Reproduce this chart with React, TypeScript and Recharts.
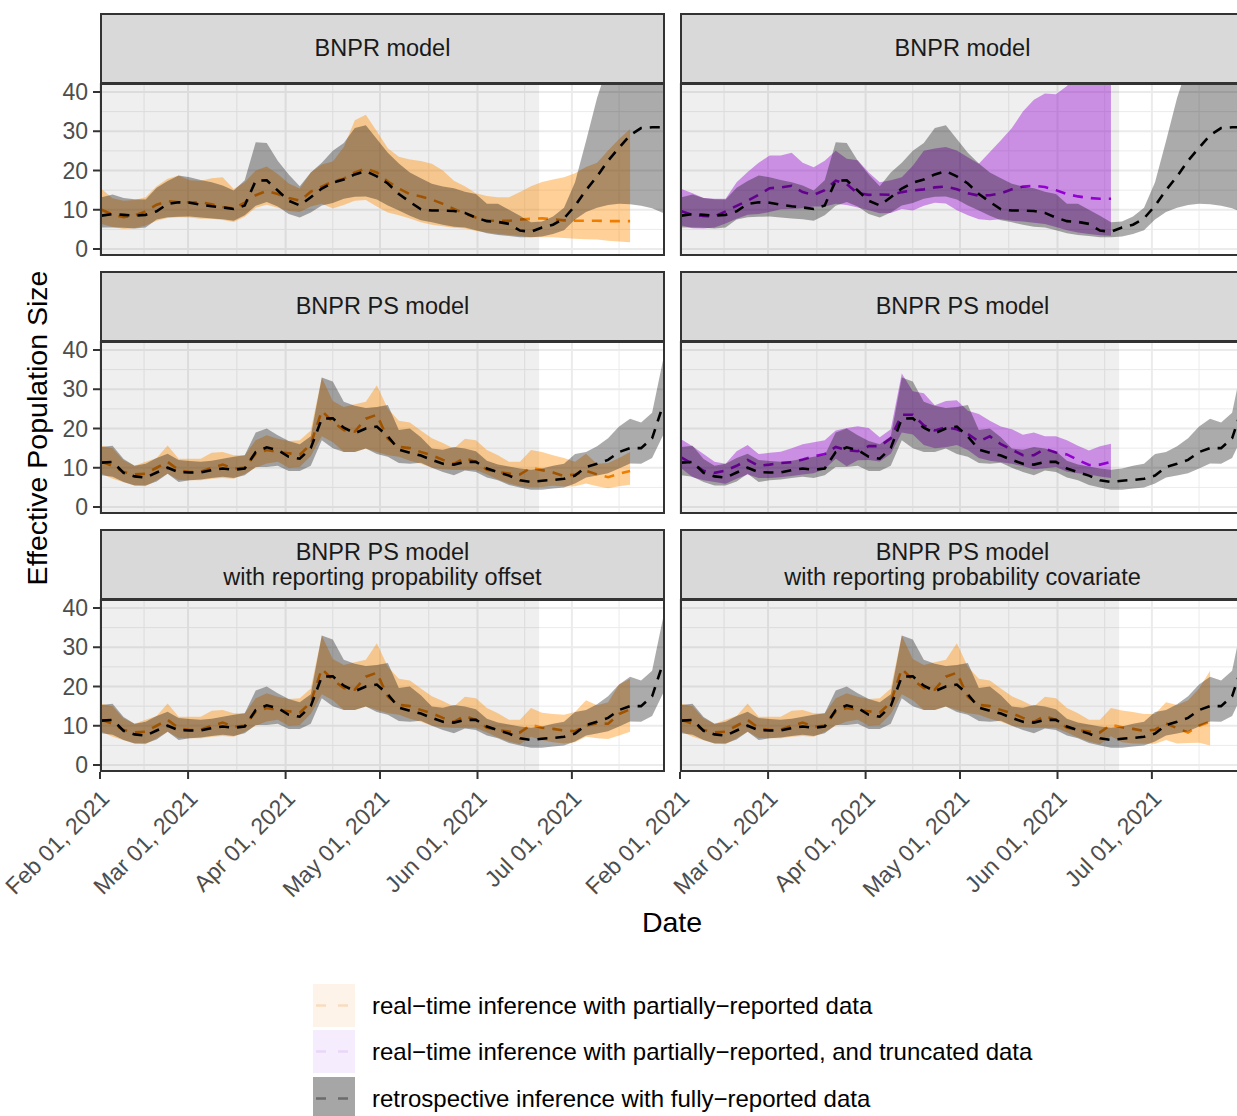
import React from "react"
import { ComposedChart, Area, Line, XAxis, YAxis, CartesianGrid, ReferenceArea } from "recharts"

// days since 2021-02-01 (twice-weekly estimation grid)
const DAYS = [0.5, 4, 7.5, 11, 14.5, 18, 21.5, 25, 28.5, 32, 35.5, 39, 42.5, 46, 49.5, 53, 56.5, 60, 63.5, 67, 70.5, 74, 77.5, 81, 84.5, 88, 91.5, 95, 98.5, 102, 105.5, 109, 112.5, 116, 119.5, 123, 126.5, 130, 133.5, 137, 140.5, 144, 147.5, 151, 154.5, 158, 161.5, 165, 168.5, 172, 175.5, 179]

const TICK_DAYS = [0, 28, 59, 89, 120, 150]
const TICK_LABELS = ["Feb 01, 2021", "Mar 01, 2021", "Apr 01, 2021", "May 01, 2021", "Jun 01, 2021", "Jul 01, 2021"]
const MINOR_DAYS = [14, 43.5, 74, 104.5, 135, 165]
const Y_TICKS = [0, 10, 20, 30, 40]
const MINOR_Y = [5, 15, 25, 35]
const TRUNCATION_DAY = 139.6

// retrospective, fully reported (BNPR)
const BNPR_MED = [8.5, 8.9, 8.7, 8.5, 8.7, 9.6, 11.5, 11.9, 11.8, 11.3, 10.9, 10.6, 10.2, 11.1, 17.4, 17.5, 14.9, 12.3, 11.1, 13.2, 15.4, 16.9, 17.7, 19.0, 19.8, 18.5, 16.7, 14.0, 12.0, 10.1, 9.8, 9.8, 9.7, 9.2, 8.0, 7.1, 6.9, 6.4, 4.7, 4.4, 5.5, 6.2, 7.8, 11.0, 15.0, 18.5, 22.5, 25.8, 29.0, 30.8, 31.0, 31.0]
const BNPR_LO = [5.5, 5.5, 5.4, 5.2, 5.5, 7.5, 8.1, 8.2, 8.3, 8.0, 7.8, 7.6, 7.2, 8.6, 11.0, 12.0, 10.8, 8.9, 8.0, 9.3, 11.1, 11.7, 12.8, 13.3, 13.4, 12.6, 11.1, 9.8, 8.5, 7.3, 6.8, 6.2, 5.7, 5.5, 4.8, 4.0, 3.6, 3.3, 3.0, 3.0, 3.2, 3.8, 4.8, 7.5, 9.4, 10.5, 11.2, 11.5, 11.4, 11.0, 10.4, 9.2]
const BNPR_HI = [13.2, 13.9, 13.0, 12.7, 12.6, 15.6, 17.3, 18.7, 18.3, 17.6, 17.0, 16.2, 14.9, 17.5, 27.2, 27.0, 22.5, 19.0, 16.0, 19.5, 22.0, 25.0, 27.0, 30.8, 31.5, 28.0, 24.5, 21.8, 19.5, 18.0, 16.6, 15.9, 15.5, 14.6, 14.0, 11.5, 11.5, 10.0, 8.5, 6.8, 7.0, 8.3, 10.5, 17.0, 27.5, 38.5, 47.0, 55.0, 61.0, 65.0, 67.0, 68.0]

// retrospective, fully reported (BNPR PS)
const PS_MED = [11.3, 11.5, 8.7, 7.8, 7.5, 8.8, 10.0, 8.9, 8.8, 8.8, 9.4, 9.8, 9.5, 9.8, 14.0, 15.2, 14.5, 12.8, 12.3, 15.0, 22.5, 22.6, 20.2, 18.8, 20.0, 20.5, 18.0, 14.6, 13.8, 13.1, 12.0, 11.0, 10.8, 11.5, 11.5, 9.8, 8.9, 8.0, 6.8, 6.4, 6.7, 6.9, 7.2, 8.0, 10.2, 11.0, 12.0, 14.0, 15.0, 15.0, 17.5, 26.0]
const PS_LO = [8.1, 7.7, 6.4, 5.5, 5.5, 6.5, 8.5, 6.4, 6.8, 7.0, 7.4, 7.7, 7.4, 8.1, 10.2, 10.2, 10.5, 9.2, 9.2, 10.5, 17.0, 15.0, 14.0, 14.0, 14.9, 13.5, 12.8, 11.2, 11.0, 11.3, 10.0, 8.9, 8.1, 9.3, 8.9, 7.5, 6.8, 5.6, 5.0, 4.4, 4.4, 4.7, 5.0, 6.0, 7.5, 8.0, 8.6, 9.8, 11.1, 11.0, 12.5, 18.3]
const PS_HI = [15.3, 15.6, 12.2, 10.5, 11.0, 12.5, 13.6, 12.0, 11.7, 11.5, 11.8, 12.3, 12.8, 13.2, 19.0, 20.0, 18.3, 16.8, 16.0, 18.0, 33.0, 32.0, 26.8, 25.8, 25.2, 25.5, 26.0, 19.6, 20.0, 17.8, 14.9, 14.6, 15.3, 14.9, 14.2, 11.8, 10.8, 10.3, 9.8, 9.5, 9.8, 10.5, 11.0, 13.5, 14.0, 15.5, 17.5, 20.5, 22.5, 21.5, 24.0, 37.5]

// real-time, partially reported (BNPR)
const BNPR_RT_MED = [10.0, 8.8, 8.1, 8.5, 9.6, 11.3, 12.2, 11.9, 11.9, 11.9, 11.4, 10.7, 10.3, 11.8, 13.7, 14.8, 14.0, 13.0, 12.3, 14.6, 15.9, 17.2, 17.9, 19.5, 20.5, 19.5, 17.2, 15.4, 14.0, 13.4, 12.6, 11.5, 10.2, 9.0, 8.0, 7.2, 7.2, 7.2, 7.5, 7.7, 7.8, 7.6, 7.3, 7.2, 7.2, 7.2, 7.1, 7.1, 7.1]
const BNPR_RT_LO = [6.4, 5.6, 5.1, 5.3, 6.0, 7.2, 7.9, 8.1, 8.0, 7.7, 7.7, 7.4, 6.9, 8.2, 10.5, 11.3, 10.5, 9.7, 9.4, 10.8, 11.5, 10.3, 11.2, 12.3, 12.5, 10.8, 9.3, 8.6, 7.8, 6.8, 6.2, 5.8, 5.4, 5.2, 4.6, 4.2, 3.8, 3.6, 3.3, 3.0, 3.0, 3.0, 2.8, 2.6, 2.5, 2.4, 2.1, 1.9, 1.7]
const BNPR_RT_HI = [15.3, 12.9, 12.3, 12.5, 13.2, 16.0, 17.9, 18.7, 17.5, 17.4, 18.0, 18.3, 15.3, 17.0, 20.0, 21.0, 19.1, 16.7, 15.4, 19.5, 21.5, 22.3, 26.0, 32.8, 34.2, 30.0, 25.7, 23.5, 22.8, 22.4, 21.7, 20.0, 17.4, 16.0, 14.2, 13.5, 13.2, 13.2, 14.5, 16.0, 17.1, 17.7, 18.3, 19.3, 20.9, 22.0, 25.1, 28.0, 30.6]

// real-time, partially reported and truncated (BNPR)
const BNPR_TR_MED = [9.6, 8.7, 8.4, 8.3, 9.6, 11.0, 12.3, 13.8, 15.5, 15.7, 16.1, 14.5, 13.8, 15.0, 17.4, 16.5, 14.2, 13.8, 13.9, 13.8, 14.5, 14.9, 15.2, 15.7, 15.9, 15.2, 14.2, 13.6, 13.7, 14.2, 15.2, 15.9, 16.1, 15.8, 15.0, 14.0, 13.4, 13.0, 12.8, 12.8]
const BNPR_TR_LO = [6.0, 5.3, 5.2, 5.5, 6.5, 7.7, 8.7, 8.9, 9.4, 10.1, 10.2, 10.4, 10.8, 10.8, 11.5, 11.2, 10.6, 9.9, 9.1, 9.2, 10.2, 9.8, 11.0, 11.8, 11.6, 9.9, 8.6, 7.6, 7.3, 7.6, 7.2, 7.0, 6.7, 6.4, 5.6, 4.8, 4.2, 3.8, 3.5, 3.4]
const BNPR_TR_HI = [15.3, 14.2, 13.0, 12.8, 12.8, 17.0, 19.6, 22.0, 23.8, 23.8, 24.5, 22.0, 20.8, 22.5, 25.0, 23.0, 22.6, 19.5, 17.0, 17.5, 18.3, 21.2, 25.0, 25.6, 26.0, 25.1, 23.4, 21.7, 24.7, 27.7, 30.8, 35.0, 38.0, 39.6, 39.4, 41.5, 45.0, 50.0, 55.0, 58.0]

// real-time, partially reported (BNPR PS)
const PS_RT_MED = [11.5, 10.5, 8.9, 8.3, 8.5, 10.0, 11.5, 9.4, 8.9, 9.0, 10.0, 10.8, 9.8, 10.0, 13.6, 14.5, 14.0, 13.7, 13.3, 16.0, 24.5, 21.7, 19.6, 19.2, 22.5, 23.5, 17.4, 15.3, 15.0, 14.0, 13.2, 12.0, 11.0, 12.5, 11.5, 9.5, 8.9, 8.5, 8.3, 10.0, 9.4, 8.8, 7.9, 8.3, 9.2, 8.3, 7.6, 8.5, 9.2]
const PS_RT_LO = [8.5, 7.2, 6.3, 5.5, 5.3, 6.8, 8.5, 6.9, 6.8, 6.8, 7.2, 7.4, 7.2, 8.4, 10.0, 11.1, 11.5, 10.0, 10.2, 13.0, 18.0, 16.5, 14.0, 14.0, 14.9, 14.0, 13.2, 12.8, 11.8, 11.0, 10.0, 9.6, 9.4, 9.4, 9.4, 8.3, 7.0, 6.0, 5.3, 5.1, 5.1, 5.4, 5.2, 5.3, 6.0, 5.3, 4.8, 5.3, 5.7]
const PS_RT_HI = [15.6, 15.0, 11.9, 10.5, 11.5, 12.5, 15.7, 12.3, 12.3, 12.3, 13.8, 14.0, 13.2, 13.2, 17.0, 18.3, 17.4, 16.8, 17.0, 19.5, 33.0, 27.0, 25.5, 26.2, 26.8, 31.0, 25.0, 22.0, 21.5, 19.5, 17.5, 16.3, 14.9, 17.4, 17.0, 14.5, 13.2, 11.5, 11.5, 14.5, 14.0, 13.2, 12.5, 11.5, 13.6, 11.0, 11.2, 12.5, 14.0]

// real-time, partially reported and truncated (BNPR PS)
const PS_TR_MED = [12.6, 11.0, 9.2, 8.7, 9.3, 10.5, 12.0, 10.5, 10.8, 11.2, 11.4, 12.1, 12.9, 13.5, 15.3, 14.5, 14.2, 15.5, 15.5, 17.5, 23.5, 23.5, 20.8, 19.5, 20.3, 19.8, 18.6, 16.7, 18.0, 16.0, 14.6, 13.2, 13.2, 14.8, 13.9, 13.4, 12.0, 10.7, 10.8, 11.5]
const PS_TR_LO = [9.8, 7.6, 6.8, 6.4, 5.9, 7.2, 8.3, 7.4, 7.4, 7.6, 7.9, 8.3, 8.6, 9.7, 12.3, 10.4, 11.9, 12.0, 11.6, 13.6, 19.0, 18.5, 15.8, 15.0, 15.2, 15.8, 14.5, 12.5, 11.8, 11.4, 11.0, 10.4, 9.6, 9.9, 10.2, 9.0, 8.6, 8.3, 7.8, 7.4]
const PS_TR_HI = [17.2, 15.5, 13.5, 11.5, 11.0, 14.2, 15.8, 13.5, 13.8, 14.1, 15.0, 16.0, 16.5, 17.0, 19.5, 20.1, 20.6, 20.1, 17.8, 19.8, 34.0, 29.5, 29.0, 25.9, 27.0, 27.2, 24.5, 23.7, 22.0, 20.5, 19.8, 18.4, 19.0, 18.0, 18.0, 17.0, 15.6, 14.4, 15.5, 16.1]

// real-time, partially reported (BNPR PS with reporting probability offset)
const OFFSET_RT_MED = [11.5, 10.5, 8.9, 8.3, 8.5, 10.0, 11.5, 9.4, 8.9, 9.0, 10.0, 10.8, 9.8, 10.0, 13.6, 14.5, 14.0, 13.7, 13.3, 16.0, 24.5, 21.7, 19.6, 19.2, 22.5, 23.5, 17.4, 15.3, 15.0, 14.0, 13.2, 12.0, 11.0, 12.5, 11.5, 9.5, 8.9, 8.5, 8.3, 10.2, 9.5, 9.2, 8.8, 8.6, 10.0, 10.6, 10.5, 13.0, 14.2]
const OFFSET_RT_LO = [8.5, 7.2, 6.3, 5.5, 5.3, 6.8, 8.5, 6.9, 6.8, 6.8, 7.2, 7.4, 7.2, 8.4, 10.0, 11.1, 11.5, 10.0, 10.2, 13.0, 18.0, 16.5, 14.0, 14.0, 14.9, 14.0, 13.2, 12.8, 11.8, 11.0, 10.0, 9.6, 9.4, 9.4, 9.4, 8.3, 7.0, 6.0, 5.3, 7.2, 6.3, 5.8, 5.5, 5.8, 7.2, 6.8, 6.6, 7.5, 8.5]
const OFFSET_RT_HI = [15.6, 15.0, 11.9, 10.5, 11.5, 12.5, 15.7, 12.3, 12.3, 12.3, 13.8, 14.0, 13.2, 13.2, 17.0, 18.3, 17.4, 16.8, 17.0, 19.5, 33.0, 27.0, 25.5, 26.2, 26.8, 31.0, 25.0, 22.0, 21.5, 19.5, 17.5, 16.3, 14.9, 17.4, 17.0, 14.5, 13.2, 11.5, 11.5, 14.5, 13.3, 13.0, 12.8, 13.5, 16.5, 15.2, 16.0, 20.5, 22.0]

// real-time, partially reported (BNPR PS with reporting probability covariate)
const COV_RT_MED = [11.5, 10.5, 8.9, 8.3, 8.5, 10.0, 11.5, 9.4, 8.9, 9.0, 10.0, 10.8, 9.8, 10.0, 13.6, 14.5, 14.0, 13.7, 13.3, 16.0, 24.5, 21.7, 19.6, 19.2, 22.5, 23.5, 17.4, 15.3, 15.0, 14.0, 13.2, 12.0, 11.0, 12.5, 11.5, 9.5, 8.9, 8.5, 8.3, 10.3, 9.6, 9.2, 8.7, 9.0, 10.6, 9.4, 8.3, 10.0, 11.0]
const COV_RT_LO = [8.5, 7.2, 6.3, 5.5, 5.3, 6.8, 8.5, 6.9, 6.8, 6.8, 7.2, 7.4, 7.2, 8.4, 10.0, 11.1, 11.5, 10.0, 10.2, 13.0, 18.0, 16.5, 14.0, 14.0, 14.9, 14.0, 13.2, 12.8, 11.8, 11.0, 10.0, 9.6, 9.4, 9.4, 9.4, 8.3, 7.0, 6.0, 5.3, 7.3, 5.8, 5.5, 5.4, 5.4, 6.4, 5.5, 5.6, 5.7, 5.0]
const COV_RT_HI = [15.6, 15.0, 11.9, 10.5, 11.5, 12.5, 15.7, 12.3, 12.3, 12.3, 13.8, 14.0, 13.2, 13.2, 17.0, 18.3, 17.4, 16.8, 17.0, 19.5, 33.0, 27.0, 25.5, 26.2, 26.8, 31.0, 25.0, 22.0, 21.5, 19.5, 17.5, 16.3, 14.9, 17.4, 17.0, 14.5, 13.2, 11.5, 11.5, 14.5, 13.9, 13.5, 13.0, 13.0, 16.0, 15.3, 16.5, 19.5, 24.0]

const FONT = '"Liberation Sans", Arial, Helvetica, sans-serif'
const ORANGE = "#ff8c00"
const ORANGE_LINE = "#ee7d00"
const PURPLE = "#9400d3"

const PANEL_W = 565
const PANEL_H = 173
const STRIP_H = 70
const COL_X = [100, 680]
const ROW_Y = [83, 341, 599]
const GUTTER = 100
const PAD = 16 // room above/below the panel so edge tick labels are not clipped

const PANELS = [
  { row: 0, col: 0, title: ["BNPR model"], g: [BNPR_MED, BNPR_LO, BNPR_HI], c: [BNPR_RT_MED, BNPR_RT_LO, BNPR_RT_HI], color: ORANGE, line: ORANGE_LINE },
  { row: 0, col: 1, title: ["BNPR model"], g: [BNPR_MED, BNPR_LO, BNPR_HI], c: [BNPR_TR_MED, BNPR_TR_LO, BNPR_TR_HI], color: PURPLE, line: PURPLE },
  { row: 1, col: 0, title: ["BNPR PS model"], g: [PS_MED, PS_LO, PS_HI], c: [PS_RT_MED, PS_RT_LO, PS_RT_HI], color: ORANGE, line: ORANGE_LINE },
  { row: 1, col: 1, title: ["BNPR PS model"], g: [PS_MED, PS_LO, PS_HI], c: [PS_TR_MED, PS_TR_LO, PS_TR_HI], color: PURPLE, line: PURPLE },
  { row: 2, col: 0, title: ["BNPR PS model", "with reporting propability offset"], g: [PS_MED, PS_LO, PS_HI], c: [OFFSET_RT_MED, OFFSET_RT_LO, OFFSET_RT_HI], color: ORANGE, line: ORANGE_LINE },
  { row: 2, col: 1, title: ["BNPR PS model", "with reporting probability covariate"], g: [PS_MED, PS_LO, PS_HI], c: [COV_RT_MED, COV_RT_LO, COV_RT_HI], color: ORANGE, line: ORANGE_LINE },
]

const LEGEND_ITEMS = [
  { label: "real\u2212time inference with partially\u2212reported data", fill: "#fdf3e8", dash: "#f8dcc0", top: 984 },
  { label: "real\u2212time inference with partially\u2212reported, and truncated data", fill: "#f5edfd", dash: "#ead6f8", top: 1030 },
  { label: "retrospective inference with fully\u2212reported data", fill: "#a6a6a6", dash: "#6b6b6b", top: 1077 },
]

const DateTick = (props: any) => {
  const { x, y, payload } = props
  const label = TICK_LABELS[TICK_DAYS.indexOf(payload.value)]
  const ax = x - 1
  const ay = y + 7
  return (
    <text x={ax} y={ay} transform={`rotate(-45 ${ax} ${ay})`} textAnchor="end" dominantBaseline="hanging" fill="#4d4d4d" fontSize={23} fontFamily={FONT}>
      {label}
    </text>
  )
}

function FacetChart({ panel }: { panel: any }) {
  const { row, col, g, c, color, line } = panel
  const showY = col === 0
  const showX = row === 2
  const rows = DAYS.map((day, i) => ({
    day,
    gMed: g[0][i],
    gBand: [g[1][i], g[2][i]],
    cMed: i < c[0].length ? c[0][i] : null,
    cBand: i < c[1].length ? [c[1][i], c[2][i]] : null,
  }))
  return (
    <div style={{ position: "absolute", left: COL_X[col] - GUTTER, top: ROW_Y[row] - PAD }}>
      <ComposedChart
        width={GUTTER + PANEL_W}
        height={PAD + PANEL_H + (showX ? 150 : PAD)}
        data={rows}
        margin={{ top: PAD, right: 0, bottom: showX ? 0 : PAD, left: showY ? 0 : GUTTER }}
      >
        <XAxis
          dataKey="day"
          type="number"
          domain={[0, 179.6]}
          ticks={TICK_DAYS}
          allowDataOverflow
          hide={!showX}
          height={150}
          axisLine={false}
          tickSize={7}
          tickLine={{ stroke: "#333", strokeWidth: 2 }}
          tick={DateTick}
          interval={0}
        />
        <YAxis
          type="number"
          domain={[-1.78, 42.29]}
          ticks={Y_TICKS}
          allowDataOverflow
          hide={!showY}
          width={GUTTER}
          axisLine={false}
          tickSize={7}
          tickMargin={5}
          tickLine={{ stroke: "#333", strokeWidth: 2 }}
          tick={{ fill: "#4d4d4d", fontSize: 23, fontFamily: FONT }}
          interval={0}
        />
        <CartesianGrid stroke="#ebebeb" strokeWidth={1} horizontalValues={MINOR_Y} verticalValues={MINOR_DAYS} />
        <CartesianGrid stroke="#ebebeb" strokeWidth={2} horizontalValues={Y_TICKS} verticalValues={TICK_DAYS} />
        <ReferenceArea x1={0} x2={TRUNCATION_DAY} fill="#000" fillOpacity={0.063} stroke="none" ifOverflow="hidden" zIndex={-50} />
        <Area type="linear" dataKey="cBand" stroke="none" fill={color} fillOpacity={0.4} isAnimationActive={false} activeDot={false} dot={false} zIndex={100} />
        <Line type="linear" dataKey="cMed" stroke={line} strokeWidth={2.6} strokeDasharray="10 8" dot={false} activeDot={false} isAnimationActive={false} zIndex={101} />
        <Area type="linear" dataKey="gBand" stroke="none" fill="#000" fillOpacity={0.33} isAnimationActive={false} activeDot={false} dot={false} zIndex={102} />
        <Line type="linear" dataKey="gMed" stroke="#000" strokeWidth={2.6} strokeDasharray="10 8" dot={false} activeDot={false} isAnimationActive={false} zIndex={103} />
      </ComposedChart>
    </div>
  )
}

function Strip({ panel }: { panel: any }) {
  const { row, col, title } = panel
  return (
    <div
      style={{
        position: "absolute",
        left: COL_X[col],
        top: ROW_Y[row] - STRIP_H,
        width: PANEL_W,
        height: STRIP_H + 1,
        boxSizing: "border-box",
        background: "#d9d9d9",
        border: "2px solid #333",
        display: "flex",
        flexDirection: "column",
        justifyContent: "center",
        alignItems: "center",
        color: "#1a1a1a",
        fontSize: 23.5,
        lineHeight: "25px",
      }}
    >
      {title.map((t: string) => (
        <div key={t} style={{ whiteSpace: "nowrap" }}>{t}</div>
      ))}
    </div>
  )
}

function Frame({ panel }: { panel: any }) {
  const { row, col } = panel
  return (
    <div
      style={{
        position: "absolute",
        left: COL_X[col],
        top: ROW_Y[row],
        width: PANEL_W,
        height: PANEL_H,
        boxSizing: "border-box",
        border: "2px solid #333",
        pointerEvents: "none",
      }}
    />
  )
}

export default function App() {
  return (
    <div style={{ position: "absolute", left: 0, top: 0, width: 1237, height: 1116, overflow: "hidden", background: "#fff", fontFamily: FONT }}>
      {PANELS.map((p, i) => (
        <FacetChart key={`chart-${i}`} panel={p} />
      ))}
      {PANELS.map((p, i) => (
        <Strip key={`strip-${i}`} panel={p} />
      ))}
      {PANELS.map((p, i) => (
        <Frame key={`frame-${i}`} panel={p} />
      ))}
      <div style={{ position: "absolute", left: 37, top: 428, transform: "translate(-50%, -50%) rotate(-90deg)", whiteSpace: "nowrap", fontSize: 28.5, color: "#000" }}>
        Effective Population Size
      </div>
      <div style={{ position: "absolute", left: 672, top: 922, transform: "translate(-50%, -50%)", fontSize: 28.5, color: "#000" }}>
        Date
      </div>
      {LEGEND_ITEMS.map((item) => (
        <div key={item.label}>
          <svg style={{ position: "absolute", left: 313, top: item.top }} width={42} height={43}>
            <rect x={0} y={0} width={42} height={43} fill={item.fill} />
            <line x1={3} x2={39} y1={21.5} y2={21.5} stroke={item.dash} strokeWidth={2.6} strokeDasharray="10 12" />
          </svg>
          <div style={{ position: "absolute", left: 372, top: item.top + 21.5, transform: "translateY(-50%)", fontSize: 24, whiteSpace: "nowrap", color: "#000" }}>
            {item.label}
          </div>
        </div>
      ))}
    </div>
  )
}
